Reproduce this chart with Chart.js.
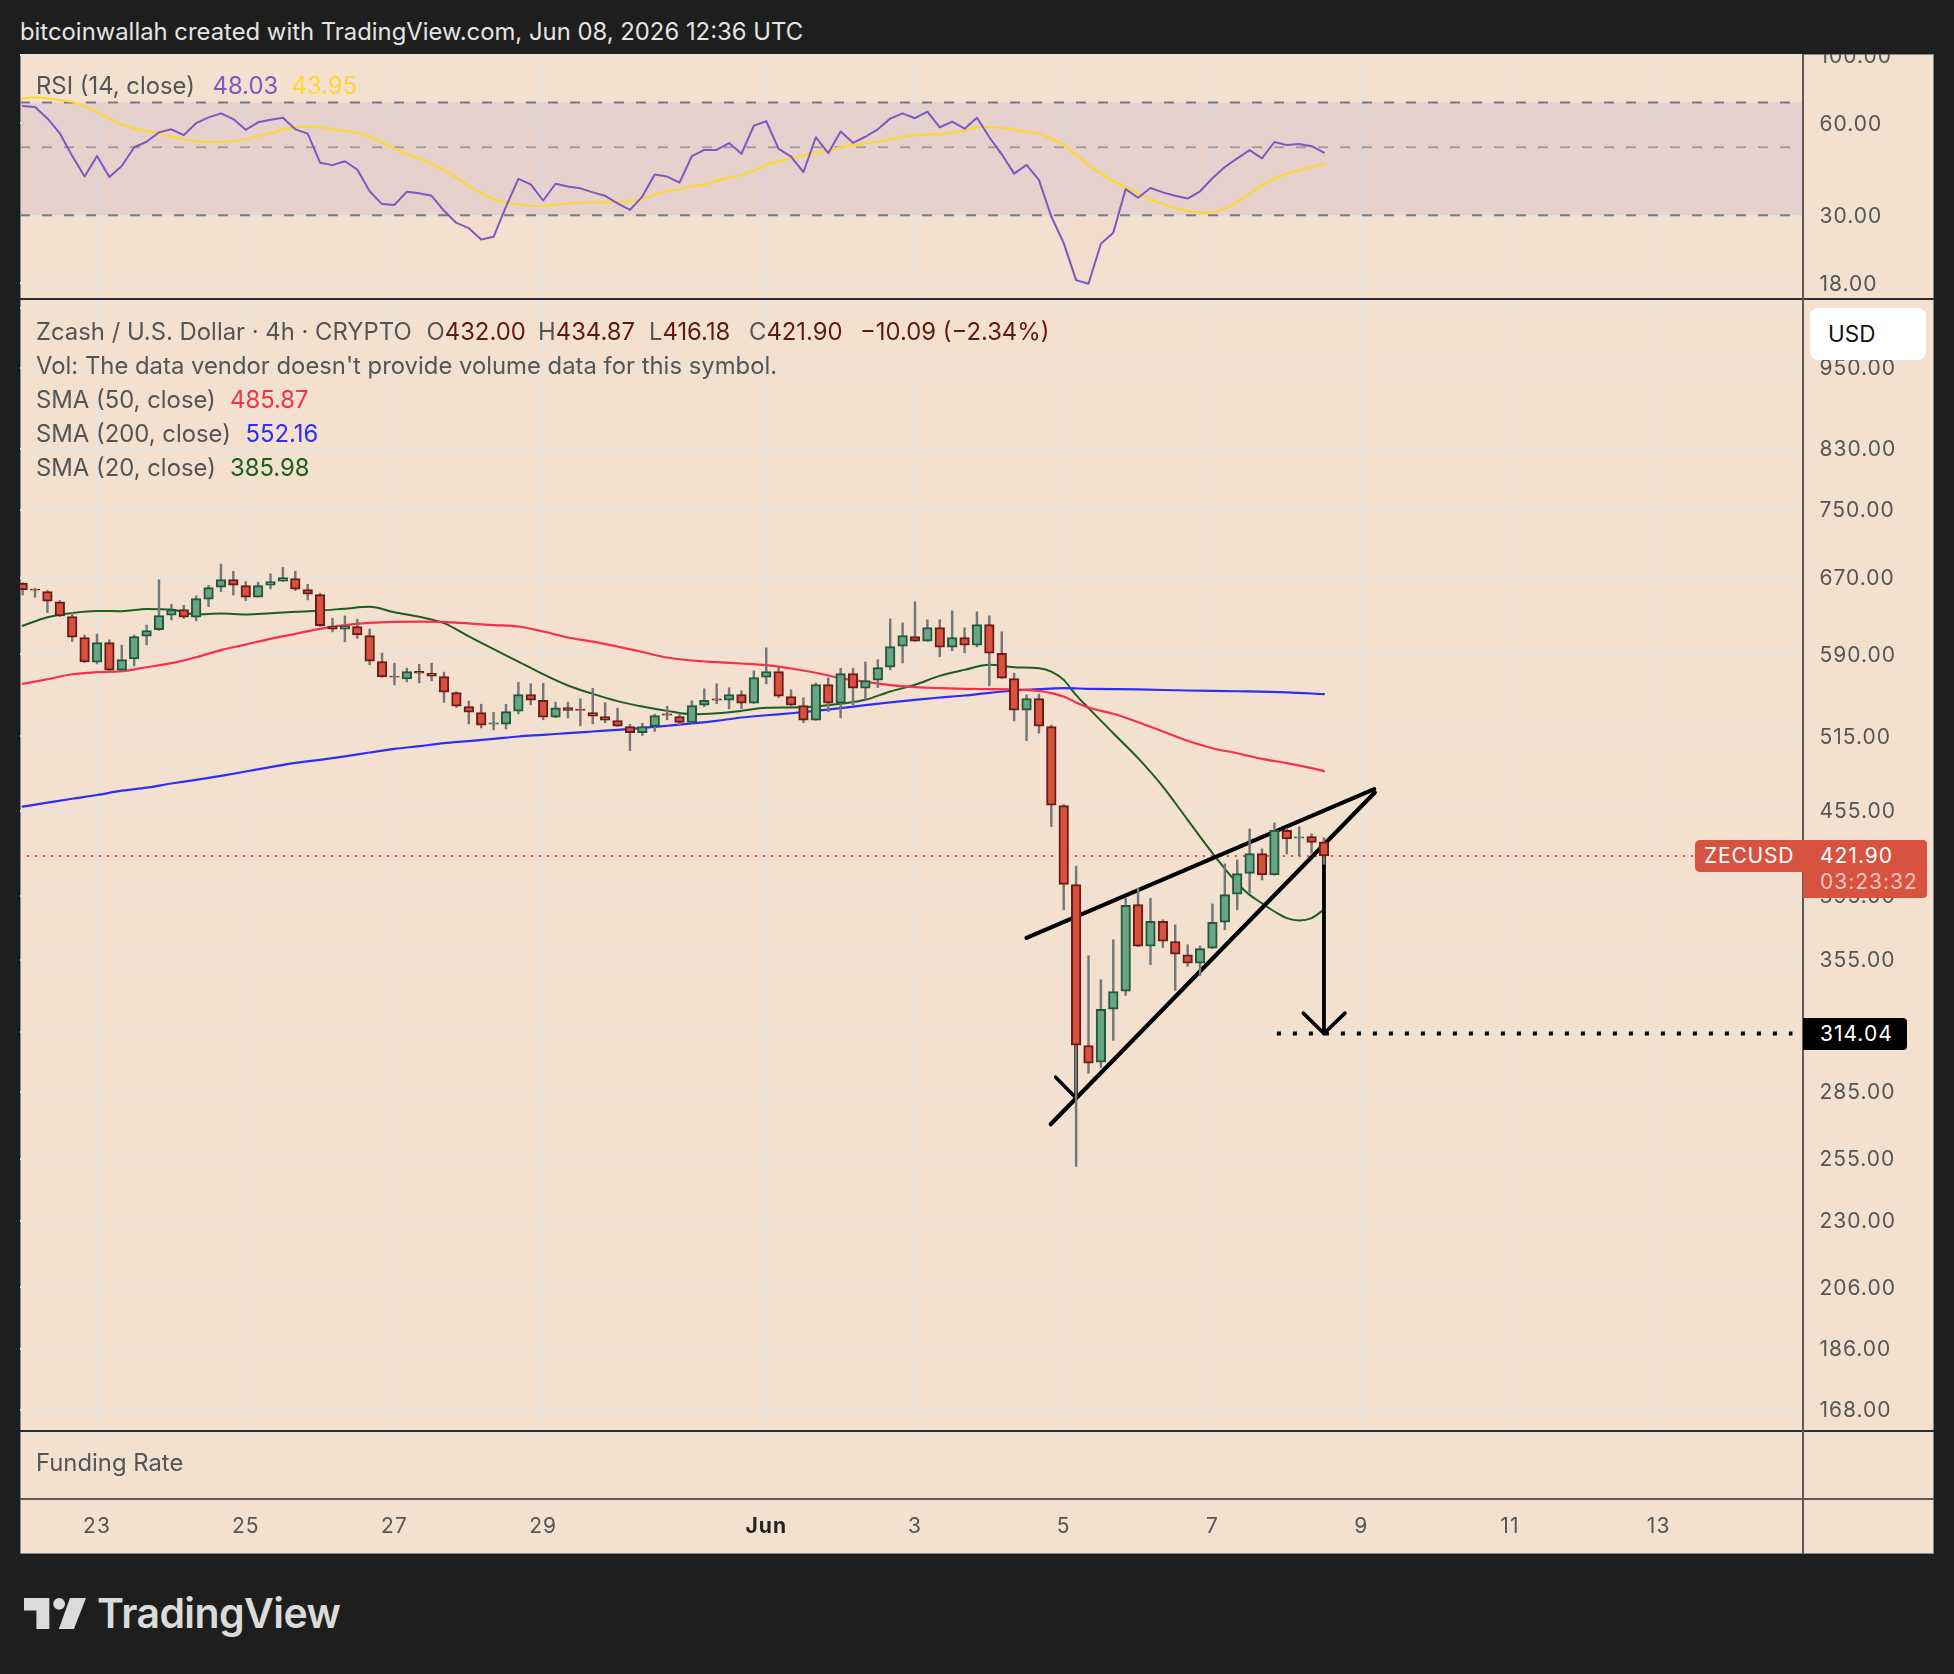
<!DOCTYPE html>
<html><head><meta charset="utf-8">
<style>
html,body{margin:0;padding:0;background:#1E1E1E;width:1954px;height:1674px;overflow:hidden;font-family:Inter,"Noto Sans",sans-serif}
#panel{position:absolute;left:20px;top:54px;width:1914px;height:1500px;background:#F3E0CF;box-shadow:inset 0 0 0 1px #8c8782}
canvas{position:absolute}
.t{position:absolute;white-space:nowrap;transform:translateY(-50%);line-height:1.2}
.r{position:absolute}
</style></head><body>
<div id="panel"></div>
<canvas id="rsi" width="1914" height="245" style="left:20px;top:54px"></canvas>
<canvas id="main" width="1914" height="1132" style="left:20px;top:299px"></canvas>
<canvas id="time" width="1914" height="123" style="left:20px;top:1431px"></canvas>
<div id="over"></div>
<script src="https://cdn.jsdelivr.net/npm/chart.js@4/dist/chart.umd.min.js"></script>
<script>
// Bars are 4h; index 0 = May 23 00:00. First visible bar is index -6.
const firstBar = -6;
const opens = [664.0,657.3,654.8,643.7,628.2,606.7,
582.2,601.6,574.5,585.5,608,614.5,629.6,635.5,627.5,646.5,
659.5,668.1,661.3,648.7,661.7,666.2,669.2,656.9,651.6,618.2,
615.2,617.9,608.7,582.9,568.9,566.3,573.6,571.7,568.5,553.6,
540.9,535.5,525.2,525.2,536.7,551.8,546.4,531.4,540,538.5,
535.5,532,528.5,523.2,517.8,523.2,534.3,532,526.7,542.2,
547.9,546.7,551.8,544,567.9,573.3,550,541.8,528.8,561.1,
544,571.4,557.7,565.1,577.5,597.9,607.7,603,616.8,597,
606.7,598.9,619.9,590.8,566.7,537.6,548.2,523.2,458.8,402.3,
307.9,299.5,327.1,337,389.2,363.1,378.4,366,358,353.1,
361.9,378,395.9,409.9,423.6,408.8,440.2,434.5,435.8,432];
const closes = [656.6,656.2,644.4,628.9,607,582.5,
601.6,574.5,584.8,607.7,613.8,629.3,635.5,627.5,647.2,659.1,
668.1,661.7,648.7,661.3,665.8,670.3,657.3,651.9,618.6,615.2,
618.2,609.4,583.2,568.2,567.9,573.3,571.7,568.9,553.9,541.2,
535.8,524.4,526.4,536.4,551.8,546.7,531.4,539.7,537.3,537.3,
532.2,528.8,523.5,517.8,523.2,532.9,533.1,526.7,541.8,546.4,
546.7,551.8,544,567.6,573.3,550.3,542.2,528.8,561.1,544,
571.4,557.7,564.8,577.2,597.6,608.7,603,616.8,597,606.7,
598.9,619.9,591.1,567,537.6,548.2,523.5,459,402.5,308.1,
299,326.9,336.8,388.6,363.1,378.4,366.2,358.3,353.1,361.7,
377.8,395.7,409.7,423.6,408.8,440.2,434,435.5,431.6,421.9];
const highs = [664.5,658.4,655.9,645.1,632.4,609.1,
610.1,604.3,599,609.1,619.3,667.7,641.2,640.1,650.1,661.7,
685.4,677.3,665.8,665.1,674.4,681.6,677.3,662.8,653,626.4,
628.9,625.4,615.2,591.1,581.3,576.5,580.3,581.3,572.7,554.5,
545.8,543,535.8,543,563.2,561.7,562.3,544.9,544.9,547.9,
557.6,544.3,539.4,525.2,526.1,534,541.2,534.9,546.1,557.1,
561.7,558,555.2,574,596.3,577.5,556.2,548.8,562.3,567.3,
576.5,576.5,582.6,584.6,625.8,621.6,643.8,624.8,624.8,634.2,
616.5,633.1,628.9,612.4,571.8,551.5,552.2,524.4,459.5,414.9,
357.4,343.4,367,393.3,399.9,393.3,379.4,376.3,364,363.3,
389.6,416.4,419.2,441.4,426.9,445.8,441.9,442.9,437.7,434.87];
const lows = [651.2,648.7,632.4,628.2,602.6,581.9,
580.6,572.3,573.9,578.7,599.3,613.8,624.7,626.1,623.7,638.7,
654.8,651.2,645.1,648.7,657.7,665.8,655.9,645.8,617.9,612.4,
602.3,605.7,579.7,567.9,560.7,563.5,562.6,564.5,544.6,540,
525.5,522,520.3,521.1,534.3,542.4,529.1,531,530.8,523.8,
525.5,526.5,523.2,502.7,515.5,519,529.1,524.7,526.1,540.7,
543.4,538.8,538.8,543.7,561.7,548.8,541.5,526.5,528.5,536.4,
530.8,542.5,547,558.3,575,581.6,602.7,603,587.5,593.4,
591.4,597.3,559.9,566.7,528.1,511,517.5,443.1,385.8,251.8,
294,296.8,310.5,334.6,362.9,352.1,362.3,337.4,351.1,345.9,
361.7,373.2,385.8,396.6,405.4,408.6,423.3,421.9,423.9,416.18];

const sma20 = [[-6,618.6],[-4,627.5],[-2,632],[0,634.1],[2,633.8],[4,636.2],[6,635.5],[8,630.3],[10,631.3],[12,630.3],[14,631.7],[16,633.1],[18,634.5],[20,636.5],[22,638.4],[24,632.7],[26,627.9],[28,621.3],[30,607.7],[32,595],[34,582.9],[36,570.7],[38,560.1],[40,552.4],[42,545.8],[44,540.9],[46,537],[48,534],[50,534.9],[52,537],[54,539.7],[56,540],[58,541],[60,543.4],[62,547],[64,554.6],[66,560.8],[68,569.2],[70,574.9],[72,579.7],[74,577.5],[76,576.5],[77,573.3],[78,565.4],[79,551.2],[80,539.5],[82,517.4],[84,496.4],[86,473.5],[88,448],[90,423.9],[92,403.2],[93,395.5],[94,390],[95,384.7],[96,380.5],[97,379],[98,380.5],[99,385.98]];
const sma50 = [[-6,561.7],[-4,566],[-2,570.7],[0,572.7],[2,573.6],[4,577.4],[6,581.3],[8,587.1],[10,594.1],[12,599.6],[14,605.3],[16,610.4],[18,615.5],[20,619.3],[22,621.6],[24,622.7],[26,623],[28,622.7],[30,621],[32,619.3],[34,617.9],[36,612.8],[38,606.7],[40,602.6],[42,597.6],[44,592.2],[46,586.8],[48,583.9],[50,582.3],[52,581],[54,579.4],[56,576.2],[58,572.1],[60,567],[62,563.6],[64,560.5],[66,558.6],[68,557.7],[70,557.1],[72,556.8],[74,556.5],[76,555.2],[77,553.1],[78,550],[79,544.6],[80,540],[82,534.4],[84,527],[86,518.9],[88,511],[90,504.7],[92,500.5],[94,495.8],[96,492.3],[98,488.2],[99,485.87]];
const sma200 = [[-6,458],[-4,461],[-2,464],[0,466.9],[2,470.3],[4,472.7],[6,475.9],[8,478.8],[10,482],[12,485.5],[14,489.1],[16,492.5],[18,495],[20,497.9],[22,501.1],[24,504.1],[26,506.4],[28,508.9],[30,510.6],[32,512.5],[34,514.6],[36,516],[38,517.5],[40,518.9],[42,520.3],[44,522],[46,523.9],[48,525.9],[50,528.2],[52,531.1],[54,533.1],[56,534.9],[58,537],[60,539.4],[62,542.1],[64,544.6],[66,546.9],[68,549.1],[70,550.9],[72,553.4],[74,555.5],[76,556.8],[78,557.7],[80,557.1],[84,556.5],[88,555.5],[92,554.8],[96,553.8],[99,552.16]];

const rsiValues = [68.2,67.7,62.1,55.5,46.8,40.1,46.8,40.0,43.4,50.0,52.1,55.9,57.2,54.8,59.9,62.6,64.5,61.8,57.0,60.3,61.5,62.4,57.2,55.4,44.5,43.7,45.0,42.3,35.9,32.6,32.4,35.8,35.4,34.7,31.0,28.3,27.2,25.0,25.5,32.0,39.4,37.8,33.5,38.0,37.2,36.7,35.6,34.7,32.8,31.2,34.5,40.7,40.1,38.3,46.8,49.0,49.0,51.6,47.6,58.8,60.8,49.4,46.6,41.5,53.9,47.8,56.3,51.7,54.1,57.2,62.0,64.5,62.2,65.4,58.1,60.6,57.5,62.4,53.9,47.4,41.0,43.8,39.1,29.7,24.3,18.4,17.9,24.2,26.3,36.5,34.2,36.8,35.6,34.7,34.0,35.9,39.6,43.1,46.0,48.9,46.0,52.0,50.8,51.2,50.4,48.03];
const rsiSma = [72.2,72.8,72.2,71.2,70.4,67.9,65.2,62.1,59.3,57.5,56.5,55.5,54.2,53.1,52.3,51.9,51.9,52.4,53.1,54.4,55.5,57.2,58.2,58.5,58.1,57.2,56.5,55.8,54.1,51.9,49.6,47.4,45.9,44.1,42.1,39.8,37.4,35.4,33.8,33.0,32.5,32.2,32.1,32.5,32.8,33.0,33.0,33.0,33.1,33.3,33.8,35.1,35.9,36.4,37.4,37.7,38.9,39.8,40.5,42.0,43.8,45.0,45.9,47.0,48.2,48.7,50.0,50.9,51.5,52.1,53.1,54.0,54.8,55.1,55.1,55.9,56.8,58.1,58.2,57.9,56.9,56.3,55.5,53.3,50.9,47.2,43.8,41.1,38.7,37.0,35.4,33.7,32.6,31.6,31.0,30.6,30.6,31.5,33.1,35.4,37.5,39.5,41.0,42.1,43.1,43.95];

const priceTicks = [1050,950,830,750,670,590,515,455,395,355,315,285,255,230,206,186,168];
const rsiTicks = [100,60,30,18];
const rsiLevels = [70,50,30];
const dayTicks = [0,12,24,36,54,66,78,90,102,114,126];
const dayLabels = ['23','25','27','29','Jun','3','5','7','9','11','13'];
const lastPrice = 421.90, targetPrice = 314.04;

// drawn wedge and arrows: [bar index, price]
const wedgeUpper = [[75,368.2],[103.05,471.5]];
const wedgeLower = [[76.95,270.1],[103.1,468.8]];
const arrowLeft = [[77.35,292.1],[79,282.1],[79,308]];
const arrowDown = [[99,421.9],[99,314.04]];
const arrowHead = [[97.33,324.9],[99,314.04],[100.69,324.9]];
const targetLine = [[95.2,314.04],[136.8,314.04]];
const priceLine = [[-6.3,421.9],[128.9,421.9]];

const UP_FILL='#6AA583',UP_EDGE='#1F5A3D',DN_FILL='#D8533F',DN_EDGE='#6B1C18';
const xMin=-6.213,xMax=137.65;
const FONT='Inter';
const pts=a=>a.map(p=>({x:p[0],y:p[1]}));
const bars=opens.map((_,i)=>firstBar+i);

function xScale(){return {type:'linear',min:xMin,max:xMax,offset:false,bounds:'data',
  grid:{offset:false,color:'#E9E3DE',lineWidth:2,drawTicks:false},border:{display:false},ticks:{display:false,autoSkip:false},
  afterBuildTicks:s=>{s.ticks=dayTicks.map(v=>({value:v}))},
  afterFit:s=>{s.height=0;s.paddingLeft=s.paddingRight=0}};}
function yScale(min,max,list,fmt){return {type:'logarithmic',position:'right',min,max,bounds:'data',
  grid:{color:'#E9E3DE',lineWidth:2,drawTicks:false},border:{display:false},
  ticks:{autoSkip:false,padding:16.5,color:'#555555',font:{family:FONT,size:21},callback:fmt},
  afterBuildTicks:s=>{s.ticks=list.map(v=>({value:v}))},
  afterFit:s=>{s.width=131;s.paddingTop=s.paddingBottom=0}};}
const spacing={id:'sp',beforeDraw(c){c.ctx.letterSpacing='1px';
  const s=c.scales.y; if(s&&s.options.display!==false){s.getLabelItems(c.chartArea).forEach(it=>{it.textOffset=1.2;});}}};
const base={responsive:false,animation:false,events:[],layout:{padding:0,autoPadding:false},plugins:{legend:{display:false},tooltip:{enabled:false}}};
function line(data,color,width,order,extra){return Object.assign({type:'line',data:pts(data),borderColor:color,borderWidth:width,pointRadius:0,fill:false,order,borderCapStyle:'round',borderJoinStyle:'round'},extra||{});}

new Chart(document.getElementById('main'),{type:'bar',
 data:{datasets:[
  {type:'bar',grouped:false,order:1,barThickness:9.6,borderWidth:2,borderSkipped:false,
   data:bars.map((b,i)=>({x:b,y:[opens[i],closes[i]]})),
   backgroundColor:bars.map((b,i)=>closes[i]>=opens[i]?UP_FILL:DN_FILL),
   borderColor:bars.map((b,i)=>closes[i]>=opens[i]?UP_EDGE:DN_EDGE)},
  {type:'bar',grouped:false,order:2,barThickness:1.8,borderWidth:0,backgroundColor:'#777777',
   data:bars.map((b,i)=>({x:b,y:[lows[i],highs[i]]}))},
  line(wedgeUpper,'#000',4.2,3),line(wedgeLower,'#000',4.2,3),
  line(arrowLeft,'#000',3.6,3),line(arrowDown,'#000',3.8,3),line(arrowHead,'#000',3.6,3),
  line(targetLine,'#000',4,3,{borderDash:[4,12],borderCapStyle:'butt'}),
  line(sma50,'#F7304A',2.2,4,{cubicInterpolationMode:'monotone'}),
  line(sma200,'#2E2EF5',2.2,4,{cubicInterpolationMode:'monotone'}),
  line(sma20,'#1B5E20',2,4,{cubicInterpolationMode:'monotone'}),
  line(priceLine,'#D8533F',2,5,{borderDash:[2,6],borderCapStyle:'butt'})
 ]},
 options:Object.assign({},base,{scales:{x:xScale(),
   y:yScale(162.2,1065,priceTicks,v=>v===1050?'':v.toFixed(2))}}),
 plugins:[spacing]});

const band={id:'band',beforeDatasetsDraw(c){const y=c.scales.y,a=c.chartArea;c.ctx.save();c.ctx.fillStyle='rgba(126,87,194,0.11)';
  const t=y.getPixelForValue(rsiLevels[0]),b=y.getPixelForValue(rsiLevels[2]);c.ctx.fillRect(a.left,t,a.right-a.left,b-t);c.ctx.restore();}};
new Chart(document.getElementById('rsi'),{type:'line',
 data:{datasets:[
  line([[xMin,rsiLevels[0]],[xMax,rsiLevels[0]]],'#787B86',2,3,{borderDash:[10,12],borderCapStyle:'butt'}),
  line([[xMin,rsiLevels[1]],[xMax,rsiLevels[1]]],'rgba(120,123,134,0.6)',2,3,{borderDash:[10,12],borderCapStyle:'butt'}),
  line([[xMin,rsiLevels[2]],[xMax,rsiLevels[2]]],'#787B86',2,3,{borderDash:[10,12],borderCapStyle:'butt'}),
  line(bars.map((b,i)=>[b,rsiSma[i]]),'#FDD835',2.2,2),
  line(bars.map((b,i)=>[b,rsiValues[i]]),'#7E57C2',2,1,{fill:{target:{value:rsiLevels[2]},above:'rgba(0,0,0,0)',below:'rgba(242,54,69,0.02)'}})
 ]},
 options:Object.assign({},base,{scales:{x:xScale(),
   y:yScale(15.97,100.8,rsiTicks,v=>v.toFixed(2))}}),
 plugins:[band,spacing]});

new Chart(document.getElementById('time'),{type:'line',data:{datasets:[]},
 options:Object.assign({},base,{layout:{padding:{left:0,right:131,top:0,bottom:0},autoPadding:false},scales:{
  y:{display:false},
  x:{type:'linear',min:xMin,max:xMax,position:'bottom',offset:false,bounds:'data',grid:{display:false},border:{display:false},
   ticks:{autoSkip:false,maxRotation:0,padding:7.5,
     color:c=>c.tick&&c.tick.value===54?'#222222':'#555555',
     font:c=>({family:FONT,size:21,weight:c.tick&&c.tick.value===54?'700':'400'}),
     callback:v=>dayLabels[dayTicks.indexOf(v)]},
   afterBuildTicks:s=>{s.ticks=dayTicks.map(v=>({value:v}))},
   afterFit:s=>{s.height=55;s.paddingLeft=s.paddingRight=0}}}}),
 plugins:[{id:'ch',beforeDraw(c){c.ctx.letterSpacing='1px'}}]});

// overlay: legends, price tags, separators, logo
const over=document.getElementById('over');
function T(text,x,y,color,size,extra){const d=document.createElement('div');d.className='t';d.textContent=text;
  d.style.cssText=`left:${x}px;top:${y}px;color:${color};font-size:${size}px;`+(extra||'');over.appendChild(d);return d;}
function R(x,y,w,h,color,extra){const d=document.createElement('div');d.className='r';
  d.style.cssText=`left:${x}px;top:${y}px;width:${w}px;height:${h}px;background:${color};`+(extra||'');over.appendChild(d);}
const G='#555555',M='#5E1A14',S=23.85;
R(20,298,1914,2,'#2A2E39');R(20,1430,1914,2,'#2A2E39');R(20,1498,1914,2,'#5A5A5A');R(1802,54,2,1500,'#5A5A5A');
T('bitcoinwallah created with TradingView.com, Jun 08, 2026 12:36 UTC',20,32,'#E4E4E4',S);
T('RSI (14, close)',36,86,G,S);T('48.03',212.5,86,'#7E57C2',S);T('43.95',291.5,86,'#FDD835',S);
T('Zcash / U.S. Dollar · 4h · CRYPTO',36,332,G,S);
[['O','432.00',426.5],['H','434.87',538],['L','416.18',649],['C','421.90',749]].forEach(([l,v,x])=>{
  const d=T(l,x,332,G,S);const s=document.createElement('span');s.textContent=v;s.style.color=M;d.appendChild(s);});
T('−10.09 (−2.34%)',860,332,M,S);
T("Vol: The data vendor doesn't provide volume data for this symbol.",36,366,G,S);
T('SMA (50, close)',36,400,G,S);T('485.87',230,400,'#F7304A',S);
T('SMA (200, close)',36,434,G,S);T('552.16',245.5,434,'#2E2EF5',S);
T('SMA (20, close)',36,468,G,S);T('385.98',230,468,'#1B5E20',S);
T('Funding Rate',36,1463,G,S);
R(1810,308,116,52,'#FFFFFF','border-radius:8px;');T('USD',1828,333,'#111',22.5);
R(1695,840,108,32,'#D8533F','border-radius:5px 0 0 5px;');T('ZECUSD',1704,856,'#FFF',21,'letter-spacing:.8px;');
R(1803,840,124,58,'#D8533F','border-radius:0 4px 4px 0;');T('421.90',1820,856,'#FFF',21,'letter-spacing:1px;');T('03:23:32',1820,882,'rgba(255,255,255,.68)',21,'letter-spacing:1px;');
R(1803,1018,104,32,'#000','border-radius:0 4px 4px 0;');T('314.04',1820,1034,'#FFF',21,'letter-spacing:1px;');
const svg=`<svg class="r" style="left:24px;top:1598px" width="62" height="31" viewBox="0 0 60 30"><path fill="#DBDBDB" d="M0 0H24.5V30H12V12H0Z"/><circle cx="34" cy="5.7" r="5.7" fill="#DBDBDB"/><path fill="#DBDBDB" d="M44.5 0H60L48.3 30H33.7Z"/></svg>`;
over.insertAdjacentHTML('beforeend',svg);
T('TradingView',97,1614,'#DBDBDB',41,'font-weight:600;letter-spacing:-.6px;');
</script>
</body></html>
